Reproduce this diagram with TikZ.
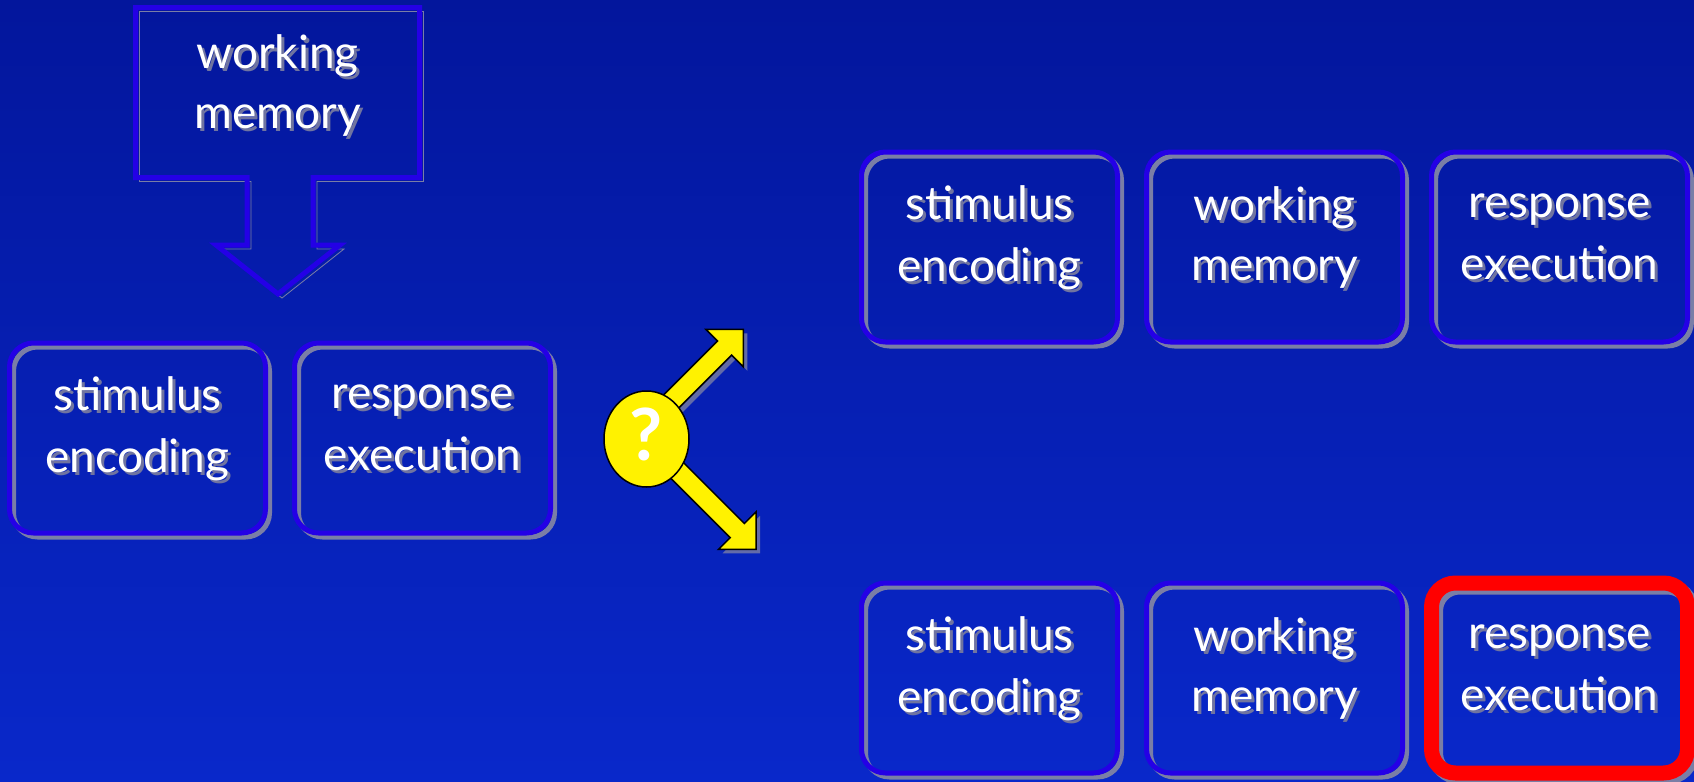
\documentclass[tikz,border=0pt]{standalone}
\usepackage{fontspec}
\setmainfont{Lato}
\usetikzlibrary{positioning,shapes.geometric}
\definecolor{bgtop}{RGB}{3,22,156}
\definecolor{bgbot}{RGB}{9,40,202}
\definecolor{rim}{RGB}{36,0,230}
\definecolor{rimshade}{RGB}{122,126,166}
\definecolor{txtshade}{RGB}{112,116,160}
% white text with a grey drop shadow, fixed line height
\newcommand\sh[1]{\rlap{\kern1.5pt\raisebox{-1.5pt}{\color{txtshade}#1}}#1\rule[-13.5pt]{0pt}{28.5pt}}

\begin{document}
\begin{tikzpicture}[x=0.5pt, y=-0.5pt,
  rimline/.style={draw=rim, line width=2.5pt,
    preaction={draw=rimshade, transform canvas={shift={(2pt,-2pt)}}}},
  stage/.style={rimline, rounded corners=12pt, minimum width=128pt, minimum height=95pt,
    inner sep=0pt, outer sep=1.25pt, align=center, text=white, font=\fontsize{23}{30}\selectfont},
  lbl/.style={align=center, text=white, inner sep=0pt, font=\fontsize{23}{30}\selectfont},
  picked/.style={draw=red, line width=7.5pt},
  node distance=118pt and 12pt]
  \useasboundingbox (0,0) rectangle (1694,782);
  \shade[top color=bgtop, bottom color=bgbot] (0,0) rectangle (1694,782);

  % working memory feeding down
  \draw[rimline] (135.5,7.5) -- (419.5,7.5) -- (419.5,177.5) -- (313,177.5) -- (313,245)
      -- (340,245) -- (278,294) -- (216,245) -- (247,245) -- (247,177.5) -- (135.5,177.5) -- cycle;
  \node[lbl] (wmtxt) at (277.5,95.5) {\sh{working}\\\sh{memory}};

  \node[stage] (lenc) at (137.5,438) {\sh{stimulus}\\\sh{encoding}};
  \node[stage, right=of lenc] (lexe) {\sh{response}\\\sh{execution}};

  % two ways out
  \node[stage] (tenc) at (989.5,247) {\sh{stimulus}\\\sh{encoding}};
  \node[stage, right=of tenc] (tmem) {\sh{working}\\\sh{memory}};
  \node[stage, right=of tmem] (texe) {\sh{response}\\\sh{execution}};
  \node[stage, below=of tenc] (benc) {\sh{stimulus}\\\sh{encoding}};
  \node[stage, right=of benc] (bmem) {\sh{working}\\\sh{memory}};
  \node[stage, picked, right=of bmem] (bexe) {\sh{response}\\\sh{execution}};

  \coordinate (uptip) at (743.3,329.3);
  \coordinate (dntip) at (756,549.3);
  \foreach \tip/\ang/\len in {uptip/45/130, dntip/-45/150} {
    \fill[rimshade, opacity=0.8, shift={([shift={(4,4)}]\tip)}, rotate=\ang]
      (0,0) -- (-26.5,26.5) -- (-26.5,10) -- (-\len,10) -- (-\len,-10) -- (-26.5,-10) -- (-26.5,-26.5) -- cycle;
    \filldraw[fill=yellow, draw=black, line width=0.75pt, shift={(\tip)}, rotate=\ang]
      (0,0) -- (-26.5,26.5) -- (-26.5,10) -- (-\len,10) -- (-\len,-10) -- (-26.5,-10) -- (-26.5,-26.5) -- cycle;
  }
  \node[ellipse, draw=black, fill=yellow, line width=0.75pt, minimum width=42.5pt, minimum height=48pt,
    inner sep=0pt, text=white, text depth=5pt, font=\fontsize{36}{36}\selectfont\bfseries] (quest) at (646.5,439) {?};
\end{tikzpicture}
\end{document}
